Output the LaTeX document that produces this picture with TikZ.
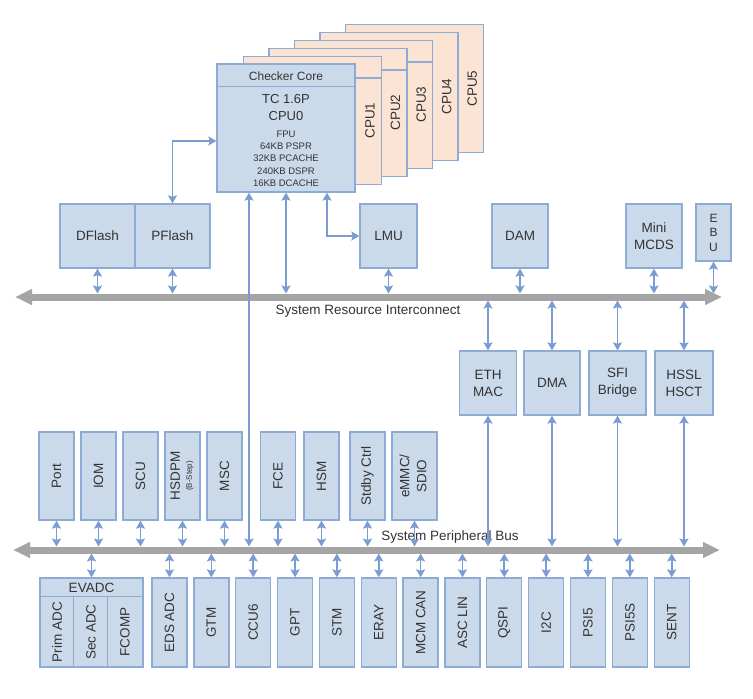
\documentclass[tikz,border=0pt]{standalone}
\usepackage{graphicx}
\usepackage{fontspec}
\setmainfont{Liberation Sans}
\usetikzlibrary{arrows.meta}

\definecolor{boxfill}{HTML}{CBDAEA}
\definecolor{boxline}{HTML}{8EABD6}
\definecolor{corefill}{HTML}{FCE4D5}
\definecolor{wire}{HTML}{7B9CD3}
\definecolor{busgray}{HTML}{A5A5A5}
\definecolor{ink}{HTML}{333333}

\tikzset{
  blk/.style={draw=boxline, fill=boxfill, line width=1.3pt, text=ink, inner sep=0pt,
    font=\fontsize{13.5}{17}\selectfont, align=center},
  vblk/.style={blk, minimum width=35pt, minimum height=88pt},
  cpubk/.style={draw=boxline, fill=corefill, line width=1.3pt, minimum width=138pt,
    minimum height=128pt, anchor=north west, inner sep=0pt},
  sep/.style={draw=boxline, line width=1.3pt},
  conn/.style={draw=wire, line width=1.7pt, >={Stealth[length=8pt,width=9pt,inset=1.5pt]}, <->},
  bus/.style={draw=busgray, line width=7pt, >={Triangle[length=17pt,width=15pt]}, <->},
  lbl/.style={text=ink, inner sep=0pt, font=\fontsize{13.5}{17}\selectfont, align=center},
}

\begin{document}
\begin{tikzpicture}[x=1pt,y=-1pt]
\fill[white] (0,0) rectangle (753,699);
\useasboundingbox (0,0) rectangle (753,699);

% other cores, back to front
\foreach \i in {5,4,3,2,1}{
  \node[cpubk] (cpu\i) at ({217+25.6*\i},{64-8*\i}) {};
  \ifnum\i<4
    \draw[sep] ([yshift=-22pt]cpu\i.north west) -- ([yshift=-22pt]cpu\i.north east);
  \fi
  \node[lbl, rotate=90] (cpu\i-name) at ([xshift=-12pt]cpu\i.east) {CPU\i};
}

% CPU0
\node[blk, minimum width=138pt, minimum height=128pt] (cpu0) at (286,128) {};
\draw[sep] ([yshift=-23pt]cpu0.north west) -- ([yshift=-23pt]cpu0.north east);
\node[lbl, font=\fontsize{12}{14}\selectfont] (chk) at (286,76) {Checker Core};
\node[lbl, font=\fontsize{13}{17}\selectfont] (tc) at (286,107.5) {TC 1.6P\\CPU0};
\node[lbl, font=\fontsize{9.5}{12.3}\selectfont] (mem) at (286,158.5)
  {FPU\\64KB PSPR\\32KB PCACHE\\240KB DSPR\\16KB DCACHE};

% SRI masters / slaves
\node[blk, minimum width=75pt, minimum height=64pt] (dfl) at (97.5,236) {DFlash};
\node[blk, minimum width=75pt, minimum height=64pt] (pfl) at (172.5,236) {PFlash};
\node[blk, minimum width=57pt, minimum height=64pt] (lmu) at (388.5,236) {LMU};
\node[blk, minimum width=56pt, minimum height=64pt] (dam) at (520,236) {DAM};
\node[blk, minimum width=56pt, minimum height=64pt] (mcds) at (654,236) {Mini\\MCDS};
\node[blk, minimum width=35pt, minimum height=57pt, font=\fontsize{12}{14.5}\selectfont]
  (ebu) at (713.5,232.5) {E\\B\\U};

% System Resource Interconnect
\coordinate (sriW) at (15,297);
\coordinate (sriE) at (722,297);
\coordinate (sriN) at (0,293.5);
\coordinate (sriS) at (0,300.5);
\draw[bus] (sriW) -- (sriE);
\node[lbl] (sriT) at (368,311) {System Resource Interconnect};

% bridges
\node[blk, minimum width=57pt, minimum height=64pt] (eth) at (488,383) {ETH\\MAC};
\node[blk, minimum width=56pt, minimum height=64pt] (dma) at (552,383) {DMA};
\node[blk, minimum width=57pt, minimum height=64pt] (sfi) at (617.5,383) {SFI\\Bridge};
\node[blk, minimum width=58pt, minimum height=64pt] (hssl) at (684,383) {HSSL\\HSCT};

% upper peripherals
\node[vblk] (port) at (56.5,476) {\rotatebox{90}{Port}};
\node[vblk] (iom) at (98.5,476) {\rotatebox{90}{IOM}};
\node[vblk] (scu) at (140.5,476) {\rotatebox{90}{SCU}};
\node[vblk] (hsdpm) at (182.5,476)
  {\rotatebox{90}{\begin{tabular}{@{}c@{}}HSDPM\\[-5pt]{\fontsize{8}{9}\selectfont (B-Step)}\end{tabular}}};
\node[vblk] (msc) at (224.5,476) {\rotatebox{90}{MSC}};
\node[vblk] (fce) at (278,476) {\rotatebox{90}{FCE}};
\node[vblk] (hsm) at (321.5,476) {\rotatebox{90}{HSM}};
\node[vblk] (stby) at (367.5,476) {\rotatebox{90}{Stdby Ctrl}};
\node[vblk, minimum width=45pt] (emmc) at (414.5,476)
  {\rotatebox{90}{\begin{tabular}{@{}c@{}}eMMC/\\SDIO\end{tabular}}};

% System Peripheral Bus
\coordinate (spbW) at (13,550);
\coordinate (spbE) at (720,550);
\coordinate (spbN) at (0,546.5);
\coordinate (spbS) at (0,553.5);
\draw[bus] (spbW) -- (spbE);
\node[lbl] (spbT) at (450,537) {System Peripheral Bus};

% lower peripherals
\node[blk, minimum width=103pt, minimum height=89pt] (evadc) at (91.5,622.5) {};
\draw[sep] ([yshift=-19pt]evadc.north west) -- ([yshift=-19pt]evadc.north east);
\draw[sep] ([xshift=34pt,yshift=-19pt]evadc.north west) -- ([xshift=34pt]evadc.south west);
\draw[sep] ([xshift=68pt,yshift=-19pt]evadc.north west) -- ([xshift=68pt]evadc.south west);
\node[lbl] (evadc-name) at (91.5,587.5) {EVADC};
\node[lbl] (prim) at (57,632) {\rotatebox{90}{Prim ADC}};
\node[lbl] (sec) at (91,632) {\rotatebox{90}{Sec ADC}};
\node[lbl] (fcomp) at (125,632) {\rotatebox{90}{FCOMP}};

\foreach \n/\t [count=\i from 0] in {eds/EDS ADC, gtm/GTM, ccu/CCU6, gpt/GPT, stm/STM,
    eray/ERAY, can/MCM CAN, lin/ASC LIN, qspi/QSPI, iic/I2C, psi/PSI5, psis/PSI5S, sent/SENT}
  \node[vblk, minimum height=89pt] (\n) at ({169.5+41.85*\i},622.5) {\rotatebox{90}{\t}};

% connections
\draw[conn] (pfl.north) |- ([yshift=-13pt]cpu0.west);
\draw[conn] ([xshift=-37pt]cpu0.south) -- ([xshift=-37pt]cpu0.south |- spbN);
\draw[conn] (cpu0.south) -- (cpu0.south |- sriN);
\draw[conn] ([xshift=41pt]cpu0.south) |- (lmu.west);

\foreach \n in {dfl,pfl,lmu,dam,mcds,ebu}
  \draw[conn] (\n.south) -- (\n.south |- sriN);
\foreach \n in {eth,dma,sfi,hssl}{
  \draw[conn] (\n.north |- sriS) -- (\n.north);
  \draw[conn] (\n.south) -- (\n.south |- spbN);
}
\foreach \n in {port,iom,scu,hsdpm,msc,fce,hsm,stby,emmc}
  \draw[conn] (\n.south) -- (\n.south |- spbN);
\foreach \n in {evadc,eds,gtm,ccu,gpt,stm,eray,can,lin,qspi,iic,psi,psis,sent}
  \draw[conn] (\n.north |- spbS) -- (\n.north);
\end{tikzpicture}
\end{document}
